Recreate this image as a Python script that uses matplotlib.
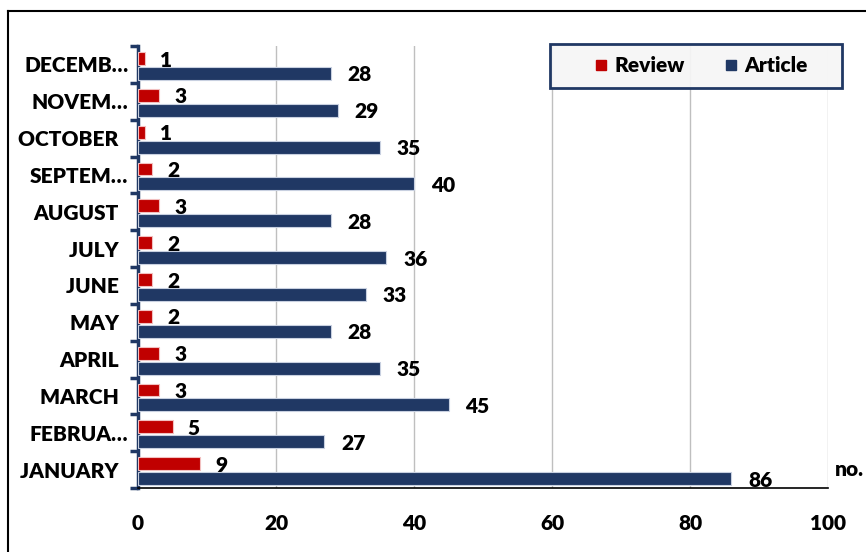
import matplotlib
matplotlib.use("Agg")
import matplotlib.pyplot as plt
import numpy as np
from matplotlib.lines import Line2D
from matplotlib.patches import Rectangle

months = ["JANUARY  ", "FEBRUA…", "MARCH  ", "APRIL  ", "MAY  ", "JUNE  ", "JULY  ",
          "AUGUST  ", "SEPTEM…", "OCTOBER  ", "NOVEM…", "DECEMB…"]
review = [9, 5, 3, 3, 2, 2, 2, 3, 2, 1, 3, 1]
article = [86, 27, 45, 35, 28, 33, 36, 28, 40, 35, 29, 28]
xticks = [0, 20, 40, 60, 80, 100]

plt.rcParams['font.family'] = ['Lato', 'DejaVu Sans']
W = "heavy"
FS = 15

RED = "#C00000"
NAVY = "#203864"

fig = plt.figure(figsize=(8.66, 5.52), dpi=100)
ax = fig.add_axes([138/866, 1-488/552, 690/866, 442/552])

y = np.arange(len(months))
h = 0.35
ax.barh(y + 0.16, review, height=h, color=RED, edgecolor="#f2c0c0", linewidth=0.8, zorder=3)
ax.barh(y - 0.245, article, height=h, color=NAVY, edgecolor="#c8d0e0", linewidth=0.8, zorder=3)

for i in range(len(months)):
    ax.annotate(str(review[i]), (review[i], y[i] + 0.16), xytext=(11, 0), textcoords="offset points",
                ha="left", va="center_baseline", fontsize=FS, fontweight=W)
    ax.annotate(str(article[i]), (article[i], y[i] - 0.245), xytext=(12, 0), textcoords="offset points",
                ha="left", va="center_baseline", fontsize=FS, fontweight=W)

ax.set_xlim(0, 100)
ax.set_ylim(-0.5, len(months) - 0.5)
ax.set_xticks(xticks)
ax.set_xticklabels([str(t) for t in xticks], fontsize=FS, fontweight=W)
ax.tick_params(axis="x", length=0, pad=19)
ax.set_yticks(y)
ax.set_yticklabels(months, fontsize=FS, fontweight=W)
ax.tick_params(axis="y", which="major", length=0, pad=7)
ax.set_yticks(np.arange(-0.5, len(months)), minor=True)
ax.tick_params(axis="y", which="minor", length=6, width=2.5, color=NAVY)

ax.grid(axis="x", color="#bfbfbf", linewidth=1, zorder=0)
for s in ["top", "right"]:
    ax.spines[s].set_visible(False)
ax.spines["left"].set_color(NAVY)
ax.spines["left"].set_linewidth(2.5)
ax.spines["bottom"].set_color("black")
ax.spines["bottom"].set_linewidth(1.2)

# legend frame
fig.add_artist(Rectangle((550/866, 1-88/552), 292/866, 44/552, transform=fig.transFigure,
                         facecolor="#f6f6f6", alpha=0.92, edgecolor="none", zorder=4))
fig.add_artist(Rectangle((550/866, 1-88/552), 292/866, 44/552, transform=fig.transFigure,
                         facecolor="none", edgecolor=NAVY, linewidth=2, zorder=6))
handles = [Line2D([], [], marker="s", linestyle="", color=RED, markersize=7.5),
           Line2D([], [], marker="s", linestyle="", color=NAVY, markersize=7.5)]
leg = fig.legend(handles, ["Review", "Article"], ncol=2, loc="center left",
                 bbox_to_anchor=(580/866, 1-66/552), bbox_transform=fig.transFigure,
                 prop={"size": FS, "weight": W}, frameon=False,
                 handletextpad=0.15, columnspacing=1.7, borderpad=0, handlelength=1.0)
leg.set_zorder(7)

fig.text(835/866, 1-470/552, "no.", fontsize=FS, fontweight=W, va="center", ha="left")

# outer frame lines
fig.add_artist(Line2D([8/866, 1], [1-11/552, 1-11/552], transform=fig.transFigure, color="black", linewidth=1.5))
fig.add_artist(Line2D([8/866, 8/866], [1-11/552, 0], transform=fig.transFigure, color="black", linewidth=1.5))

fig.savefig("out.png", dpi=100)
